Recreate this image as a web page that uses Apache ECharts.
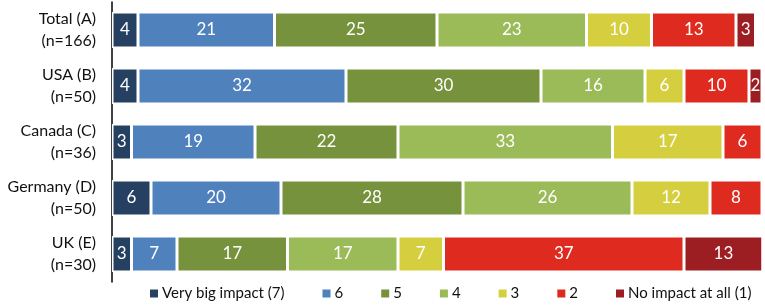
<!DOCTYPE html>
<html>
<head>
<meta charset="utf-8">
<script src="https://cdn.jsdelivr.net/npm/echarts@6/dist/echarts.min.js"></script>
<style>
  html, body { margin: 0; padding: 0; background: #fff; }
  #chart { width: 765px; height: 308px; }
</style>
</head>
<body>
<div id="chart"></div>
<script>
// rows, top to bottom
const categories = ["Total (A)\n(n=166)", "USA (B)\n(n=50)", "Canada (C)\n(n=36)", "Germany (D)\n(n=50)", "UK (E)\n(n=30)"];
const levels = ["Very big impact (7)", "6", "5", "4", "3", "2", "No impact at all (1)"];

const impact7 = [4, 4, 3, 6, 3];
const impact6 = [21, 32, 19, 20, 7];
const impact5 = [25, 30, 22, 28, 17];
const impact4 = [23, 16, 33, 26, 17];
const impact3 = [10, 6, 17, 12, 7];
const impact2 = [13, 10, 6, 8, 37];
const impact1 = [3, 2, 0, 0, 13];

const colors = ["#254061", "#4F81BD", "#76923C", "#9BBB59", "#D5CE3E", "#DF2A1F", "#9C1E22"];
const values = [impact7, impact6, impact5, impact4, impact3, impact2, impact1];

const chart = echarts.init(document.getElementById("chart"));

const series = levels.map((name, i) => ({
  name,
  type: "bar",
  stack: "total",
  barWidth: 36,
  itemStyle: { color: colors[i], borderColor: "#fff", borderWidth: 1.5 },
  label: {
    show: true,
    color: "#fff",
    fontSize: 17,
    fontFamily: "Lato",
    formatter: (p) => (p.value ? p.value : ""),
  },
  data: values[i],
}));

chart.setOption({
  animation: false,
  textStyle: { fontFamily: "Lato" },
  grid: { left: 112, right: 3, top: 2, bottom: 26 },
  xAxis: { type: "value", min: 0, max: 100, show: false },
  yAxis: {
    type: "category",
    inverse: true,
    data: categories,
    axisLine: { lineStyle: { color: "#000", width: 1.5 } },
    axisTick: { show: false },
    axisLabel: { color: "#111", fontSize: 16, lineHeight: 22, margin: 16, fontFamily: "Lato" },
  },
  legend: {
    bottom: 2,
    left: 145,
    width: 640,
    itemWidth: 8,
    itemHeight: 8,
    itemGap: 38,
    icon: "rect",
    itemStyle: { borderWidth: 0 },
    textStyle: { fontSize: 15, color: "#111", fontFamily: "Lato", padding: [0, 0, 0, -1] },
    data: levels,
  },
  series,
});
</script>
</body>
</html>
